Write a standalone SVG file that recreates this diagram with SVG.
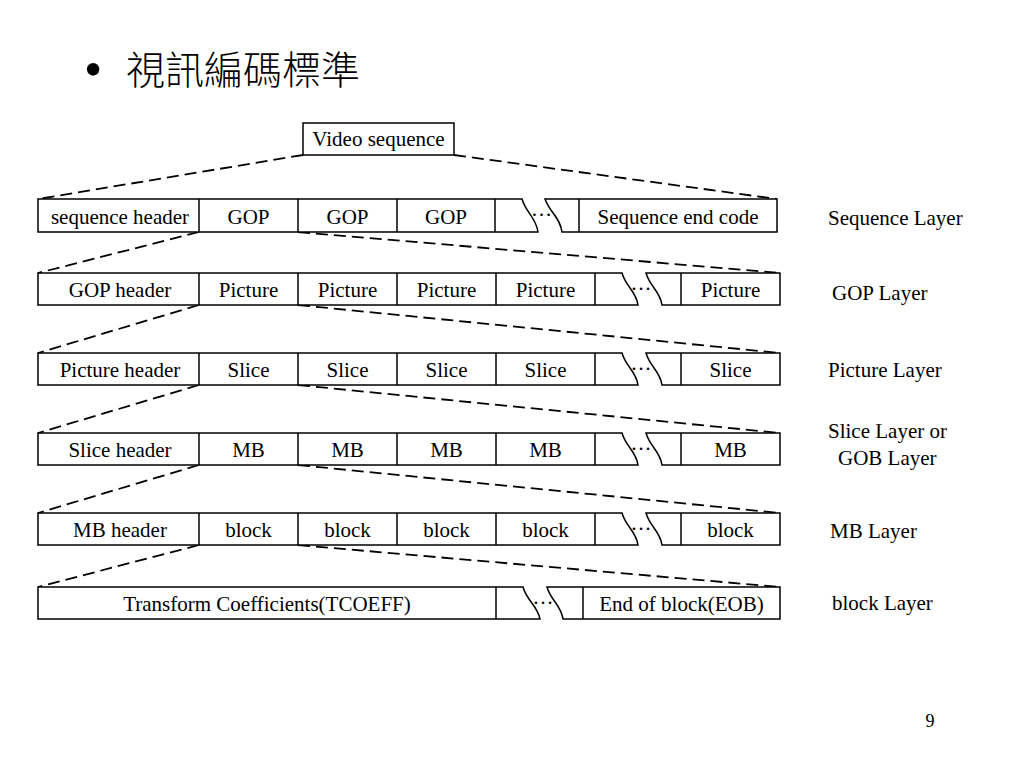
<svg xmlns="http://www.w3.org/2000/svg" width="1024" height="768" viewBox="0 0 1024 768">
<style>
.box{fill:#fff;stroke:#000;stroke-width:1.5}
.div{stroke:#000;stroke-width:1.5}
.dash{stroke:#000;stroke-width:1.8;stroke-dasharray:12,6;fill:none}
.t{font-family:"Liberation Serif","Times New Roman",serif;font-size:21px;fill:#000;text-anchor:middle}
.lbl{font-family:"Liberation Serif","Times New Roman",serif;font-size:21px;fill:#000}
</style>
<rect width="1024" height="768" fill="#fff"/>
<g id="title">
<text x="84" y="87" style="font-family:'Liberation Serif',serif;font-size:52px">•</text>
<text x="126" y="84" style="font-family:'Noto Sans CJK TC','Noto Sans CJK SC',sans-serif;font-size:39px;font-weight:300">視訊編碼標準</text>
</g>
<g id="connectors">
<line class="dash" x1="303" y1="155" x2="38" y2="199"/>
<line class="dash" x1="454" y1="155" x2="777" y2="199"/>
<line class="dash" x1="199" y1="232" x2="38" y2="273"/>
<line class="dash" x1="298" y1="232" x2="780" y2="273"/>
<line class="dash" x1="199" y1="305" x2="38" y2="353"/>
<line class="dash" x1="298" y1="305" x2="780" y2="353"/>
<line class="dash" x1="199" y1="385" x2="38" y2="433"/>
<line class="dash" x1="298" y1="385" x2="780" y2="433"/>
<line class="dash" x1="199" y1="465" x2="38" y2="513"/>
<line class="dash" x1="298" y1="465" x2="780" y2="513"/>
<line class="dash" x1="199" y1="545" x2="38" y2="587"/>
<line class="dash" x1="298" y1="545" x2="780" y2="587"/>
</g>
<g id="video-sequence">
<rect class="box" x="303" y="123" width="151" height="32"/>
<text class="t" x="378.5" y="146">Video sequence</text>
</g>
<g id="sequence-layer">
<path class="box" d="M38,199 H522 C526,213 536,217 538,232 H38 Z"/>
<path class="box" d="M545,199 H777 V232 H562 C560,217 550,213 545,199 Z"/>
<line class="div" x1="199" y1="199" x2="199" y2="232"/>
<line class="div" x1="298" y1="199" x2="298" y2="232"/>
<line class="div" x1="397" y1="199" x2="397" y2="232"/>
<line class="div" x1="495" y1="199" x2="495" y2="232"/>
<line class="div" x1="579" y1="199" x2="579" y2="232"/>
<text class="t" x="120" y="224">sequence header</text>
<text class="t" x="248.5" y="224">GOP</text>
<text class="t" x="347.5" y="224">GOP</text>
<text class="t" x="446" y="224">GOP</text>
<text class="t" x="541.5" y="216">…</text>
<text class="t" x="678" y="224">Sequence end code</text>
</g>
<g id="gop-layer">
<path class="box" d="M38,273 H622 C626,287 636,291 638,305 H38 Z"/>
<path class="box" d="M646,273 H780 V305 H662 C660,291 650,287 646,273 Z"/>
<line class="div" x1="199" y1="273" x2="199" y2="305"/>
<line class="div" x1="298" y1="273" x2="298" y2="305"/>
<line class="div" x1="397" y1="273" x2="397" y2="305"/>
<line class="div" x1="496" y1="273" x2="496" y2="305"/>
<line class="div" x1="595" y1="273" x2="595" y2="305"/>
<line class="div" x1="681" y1="273" x2="681" y2="305"/>
<text class="t" x="120" y="297">GOP header</text>
<text class="t" x="248.5" y="297">Picture</text>
<text class="t" x="347.5" y="297">Picture</text>
<text class="t" x="446.5" y="297">Picture</text>
<text class="t" x="545.5" y="297">Picture</text>
<text class="t" x="641" y="290">…</text>
<text class="t" x="730.5" y="297">Picture</text>
</g>
<g id="picture-layer">
<path class="box" d="M38,353 H622 C626,367 636,371 638,385 H38 Z"/>
<path class="box" d="M646,353 H780 V385 H662 C660,371 650,367 646,353 Z"/>
<line class="div" x1="199" y1="353" x2="199" y2="385"/>
<line class="div" x1="298" y1="353" x2="298" y2="385"/>
<line class="div" x1="397" y1="353" x2="397" y2="385"/>
<line class="div" x1="496" y1="353" x2="496" y2="385"/>
<line class="div" x1="595" y1="353" x2="595" y2="385"/>
<line class="div" x1="681" y1="353" x2="681" y2="385"/>
<text class="t" x="120" y="377">Picture header</text>
<text class="t" x="248.5" y="377">Slice</text>
<text class="t" x="347.5" y="377">Slice</text>
<text class="t" x="446.5" y="377">Slice</text>
<text class="t" x="545.5" y="377">Slice</text>
<text class="t" x="641" y="370">…</text>
<text class="t" x="730.5" y="377">Slice</text>
</g>
<g id="slice-layer">
<path class="box" d="M38,433 H622 C626,447 636,451 638,465 H38 Z"/>
<path class="box" d="M646,433 H780 V465 H662 C660,451 650,447 646,433 Z"/>
<line class="div" x1="199" y1="433" x2="199" y2="465"/>
<line class="div" x1="298" y1="433" x2="298" y2="465"/>
<line class="div" x1="397" y1="433" x2="397" y2="465"/>
<line class="div" x1="496" y1="433" x2="496" y2="465"/>
<line class="div" x1="595" y1="433" x2="595" y2="465"/>
<line class="div" x1="681" y1="433" x2="681" y2="465"/>
<text class="t" x="120" y="457">Slice header</text>
<text class="t" x="248.5" y="457">MB</text>
<text class="t" x="347.5" y="457">MB</text>
<text class="t" x="446.5" y="457">MB</text>
<text class="t" x="545.5" y="457">MB</text>
<text class="t" x="641" y="450">…</text>
<text class="t" x="730.5" y="457">MB</text>
</g>
<g id="mb-layer">
<path class="box" d="M38,513 H622 C626,527 636,531 638,545 H38 Z"/>
<path class="box" d="M646,513 H780 V545 H662 C660,531 650,527 646,513 Z"/>
<line class="div" x1="199" y1="513" x2="199" y2="545"/>
<line class="div" x1="298" y1="513" x2="298" y2="545"/>
<line class="div" x1="397" y1="513" x2="397" y2="545"/>
<line class="div" x1="496" y1="513" x2="496" y2="545"/>
<line class="div" x1="595" y1="513" x2="595" y2="545"/>
<line class="div" x1="681" y1="513" x2="681" y2="545"/>
<text class="t" x="120" y="537">MB header</text>
<text class="t" x="248.5" y="537">block</text>
<text class="t" x="347.5" y="537">block</text>
<text class="t" x="446.5" y="537">block</text>
<text class="t" x="545.5" y="537">block</text>
<text class="t" x="641" y="530">…</text>
<text class="t" x="730.5" y="537">block</text>
</g>
<g id="block-layer">
<path class="box" d="M38,587 H523 C527,601 537,605 540,619 H38 Z"/>
<path class="box" d="M547,587 H780 V619 H563 C561,605 551,601 547,587 Z"/>
<line class="div" x1="496" y1="587" x2="496" y2="619"/>
<line class="div" x1="583" y1="587" x2="583" y2="619"/>
<text class="t" x="267" y="611">Transform Coefficients(TCOEFF)</text>
<text class="t" x="543" y="604">…</text>
<text class="t" x="681.5" y="611">End of block(EOB)</text>
</g>
<g id="layer-labels">
<text class="lbl" x="828" y="225">Sequence Layer</text>
<text class="lbl" x="832" y="300">GOP Layer</text>
<text class="lbl" x="828" y="377">Picture Layer</text>
<text class="lbl" x="828" y="438">Slice Layer or</text>
<text class="lbl" x="838" y="465">GOB Layer</text>
<text class="lbl" x="830" y="538">MB Layer</text>
<text class="lbl" x="832" y="610">block Layer</text>
</g>
<g id="page-number">
<text x="930" y="727" style="font-family:'Liberation Serif',serif;font-size:18px;text-anchor:middle">9</text>
</g>
</svg>
